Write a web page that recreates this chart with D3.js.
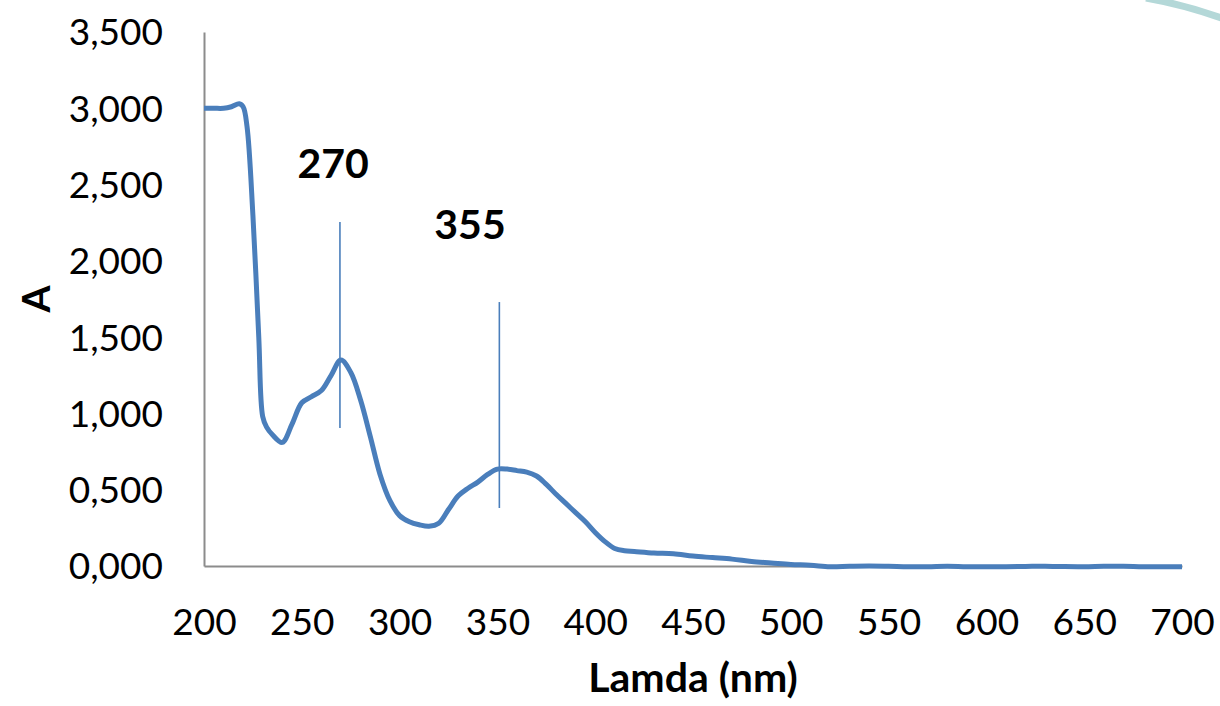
<!DOCTYPE html>
<html>
<head>
<meta charset="utf-8">
<script src="https://cdn.jsdelivr.net/npm/d3@7"></script>
<style>
  html, body { margin: 0; padding: 0; background: #ffffff; }
  svg { display: block; }
</style>
</head>
<body>
<svg id="chart" width="1220" height="706"></svg>
<script>
// ---- data ----
const wavelengths = [200,205,210,214,218,220,222,225,228,230,232,235,240,245,250,255,260,265,270,275,280,285,290,295,300,305,310,315,320,325,330,335,340,345,350,355,360,365,370,375,380,385,390,395,400,405,410,415,420,430,440,450,460,470,480,490,500,510,520,530,540,550,560,570,580,590,600,610,620,630,640,650,660,670,680,690,700];
const absorbance = [3.00,3.00,3.00,3.01,3.03,3.01,2.88,2.30,1.50,0.98,0.91,0.86,0.81,0.93,1.07,1.11,1.15,1.25,1.35,1.27,1.09,0.85,0.60,0.43,0.33,0.29,0.27,0.26,0.28,0.37,0.46,0.51,0.55,0.60,0.635,0.635,0.625,0.615,0.59,0.535,0.47,0.41,0.35,0.29,0.22,0.16,0.115,0.10,0.095,0.085,0.08,0.065,0.055,0.045,0.03,0.02,0.01,0.005,-0.005,-0.002,0.0,-0.002,-0.005,-0.005,-0.002,-0.005,-0.005,-0.005,-0.003,-0.001,-0.004,-0.005,-0.002,-0.001,-0.005,-0.005,-0.005];
const xTicks = [200,250,300,350,400,450,500,550,600,650,700];
const yTicks = [0,0.5,1.0,1.5,2.0,2.5,3.0,3.5];
const peakLabels = ["270","355"];
const peakX = [269.5, 351];
const peakLineTop = [2.254, 1.73];
const peakLineBottom = [0.904, 0.38];
const peakLabelX = [266, 336];
const peakLabelY = [2.54, 2.14];
const xTitle = "Lamda (nm)";
const yTitle = "A";

// ---- layout ----
const svg = d3.select("#chart");
const x = d3.scaleLinear().domain([200, 700]).range([204, 1182]);
const y = d3.scaleLinear().domain([0, 3.5]).range([566, 32]);
const font = "Lato, 'Open Sans', sans-serif";

// decorative arc top-right
svg.append("path")
  .attr("d", "M1146,-2 Q1186,5 1224,19")
  .attr("fill", "none")
  .attr("stroke", "#b4d8d8")
  .attr("stroke-width", 7);

// axes
const yAxis = svg.append("g")
  .attr("transform", `translate(${x(200)},0)`)
  .call(d3.axisLeft(y).tickValues(yTicks).tickSize(0).tickSizeOuter(0).tickPadding(41)
    .tickFormat(d => d.toFixed(3).replace(".", ",")));
const xAxis = svg.append("g")
  .attr("transform", `translate(0,${y(0)})`)
  .call(d3.axisBottom(x).tickValues(xTicks).tickSize(0).tickSizeOuter(0).tickPadding(43)
    .tickFormat(d3.format("d")));

[xAxis, yAxis].forEach(g => {
  g.select(".domain").attr("stroke", "#8c8c8c").attr("stroke-width", 2);
  g.selectAll("text").attr("font-family", font).attr("font-size", 37).attr("fill", "#000");
});
yAxis.selectAll("text").attr("dy", "0.35em");

// peak marker lines
svg.append("g").selectAll("line")
  .data(peakX)
  .join("line")
  .attr("x1", d => x(d)).attr("x2", d => x(d))
  .attr("y1", (d, i) => y(peakLineTop[i]))
  .attr("y2", (d, i) => y(peakLineBottom[i]))
  .attr("stroke", "#4a7ebb")
  .attr("stroke-width", 1.6);

// spectrum line
const pts = wavelengths.map((w, i) => [w, absorbance[i]]);
svg.append("path")
  .datum(pts)
  .attr("fill", "none")
  .attr("stroke", "#4a7ebb")
  .attr("stroke-width", 5)
  .attr("stroke-linejoin", "round")
  .attr("d", d3.line().x(d => x(d[0])).y(d => y(d[1])).curve(d3.curveCatmullRom.alpha(0.5)));

// peak labels
svg.append("g").selectAll("text")
  .data(peakLabels)
  .join("text")
  .attr("x", (d, i) => x(peakLabelX[i]))
  .attr("y", (d, i) => y(peakLabelY[i]))
  .attr("text-anchor", "middle")
  .attr("font-family", font)
  .attr("font-weight", "bold")
  .attr("font-size", 41)
  .attr("fill", "#000")
  .text(d => d);

// axis titles
svg.append("text")
  .attr("x", (x(200) + x(700)) / 2)
  .attr("y", 692)
  .attr("text-anchor", "middle")
  .attr("font-family", font)
  .attr("font-weight", "bold")
  .attr("font-size", 41)
  .attr("fill", "#000")
  .text(xTitle);

svg.append("text")
  .attr("transform", `translate(50,${(y(0) + y(3.5)) / 2}) rotate(-90)`)
  .attr("text-anchor", "middle")
  .attr("font-family", font)
  .attr("font-weight", "bold")
  .attr("font-size", 39)
  .attr("fill", "#000")
  .text(yTitle);
</script>
</body>
</html>
